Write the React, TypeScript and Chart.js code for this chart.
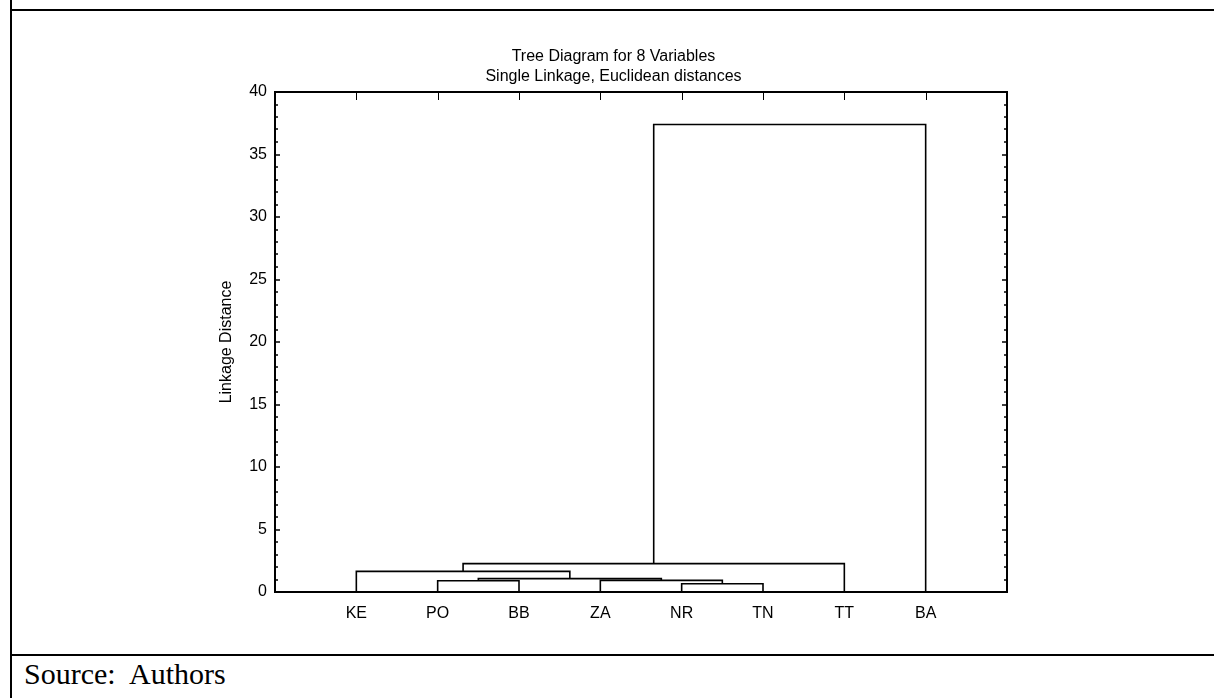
import React, { useEffect, useRef } from 'react';
import { Chart, registerables } from 'chart.js';

Chart.register(...registerables);

// ---- data ----
const leafLabels = ['KE', 'PO', 'BB', 'ZA', 'NR', 'TN', 'TT', 'BA'];
// merges: ids 0..7 are leaves, merge k creates cluster id 8 + k
const mergeLeft = [4, 1, 3, 9, 0, 12, 13];
const mergeRight = [5, 2, 8, 10, 11, 6, 7];
const mergeHeight = [0.66, 0.9, 0.93, 1.07, 1.65, 2.27, 37.4];
const yTickValues = [0, 5, 10, 15, 20, 25, 30, 35, 40];
const titleLines = ['Tree Diagram for 8 Variables', 'Single Linkage, Euclidean distances'];
const yAxisTitle = 'Linkage Distance';
const sourceNote = 'Source:  Authors';

const FONT = '"Liberation Sans", Arial, sans-serif';

function buildDatasets() {
  const clusterX: number[] = leafLabels.map((_, i) => i + 1);
  const clusterH: number[] = leafLabels.map(() => 0);
  return mergeLeft.map((a, k) => {
    const b = mergeRight[k];
    const h = mergeHeight[k];
    const pts = [
      { x: clusterX[a], y: clusterH[a] },
      { x: clusterX[a], y: h },
      { x: clusterX[b], y: h },
      { x: clusterX[b], y: clusterH[b] },
    ];
    clusterX.push((clusterX[a] + clusterX[b]) / 2);
    clusterH.push(h);
    return {
      data: pts,
      borderColor: '#000',
      borderWidth: 1.6,
      pointRadius: 0,
      tension: 0,
      fill: false,
    };
  });
}

const frameTicks = {
  id: 'frameTicks',
  afterDraw(chart: any) {
    const { ctx, chartArea } = chart;
    const { left, right, top } = chartArea;
    const ys = chart.scales.y;
    const xs = chart.scales.x;
    const yMax = yTickValues[yTickValues.length - 1];
    ctx.save();
    ctx.strokeStyle = '#000';
    const seg = (x1: number, y1: number, x2: number, y2: number) => {
      ctx.beginPath();
      ctx.moveTo(x1, y1);
      ctx.lineTo(x2, y2);
      ctx.stroke();
    };
    ctx.lineWidth = 1.5;
    for (let v = 0; v <= yMax; v++) {
      const py = Math.round(ys.getPixelForValue(v));
      const len = v % 5 === 0 ? 5 : 3;
      seg(left, py, left + len, py);
      seg(right, py, right - len, py);
    }
    ctx.lineWidth = 1;
    leafLabels.forEach((_, i) => {
      const px = Math.round(xs.getPixelForValue(i + 1)) + 0.5;
      seg(px, top, px, top + 8);
    });
    ctx.restore();
  },
};

export default function App() {
  const ref = useRef<HTMLCanvasElement>(null);

  useEffect(() => {
    const canvas = ref.current;
    if (!canvas) return;
    Chart.defaults.font.family = FONT;
    Chart.defaults.color = '#000';
    const chart = new Chart(canvas, {
      type: 'line',
      data: { datasets: buildDatasets() as any },
      options: {
        animation: false,
        responsive: false,
        devicePixelRatio: 1,
        layout: { padding: 0 },
        plugins: {
          legend: { display: false },
          tooltip: { enabled: false },
          title: {
            display: true,
            text: titleLines,
            color: '#000',
            font: { family: FONT, size: 16, weight: 'normal', lineHeight: 20 / 16 },
            padding: { top: 35, bottom: 5 },
          },
        },
        scales: {
          x: {
            type: 'linear',
            position: 'bottom',
            min: 0,
            max: 9,
            afterBuildTicks: (s: any) => {
              s.ticks = leafLabels.map((_, i) => ({ value: i + 1 }));
            },
            afterFit: (s: any) => {
              s.height = 63;
            },
            ticks: {
              autoSkip: false,
              maxRotation: 0,
              padding: 12,
              font: { family: FONT, size: 16 },
              color: '#000',
              callback: (v: any) => leafLabels[Number(v) - 1] ?? '',
            },
            grid: { display: false, drawTicks: false },
            border: { display: true, width: 2, color: '#000' },
          },
          x2: {
            type: 'linear',
            position: 'top',
            min: 0,
            max: 9,
            ticks: { display: false },
            grid: { display: false, drawTicks: false },
            border: { display: true, width: 2, color: '#000' },
            afterFit: (s: any) => {
              s.height = 0;
            },
          },
          y: {
            type: 'linear',
            position: 'left',
            min: 0,
            max: 40,
            afterBuildTicks: (s: any) => {
              s.ticks = yTickValues.map((v) => ({ value: v }));
            },
            afterFit: (s: any) => {
              s.width = 262;
            },
            ticks: {
              padding: 8,
              font: { family: FONT, size: 16 },
              color: '#000',
            },
            title: {
              display: true,
              text: yAxisTitle,
              color: '#000',
              font: { family: FONT, size: 16, lineHeight: 1.2 },
              padding: { top: 204, bottom: 0 },
            },
            grid: { display: false, drawTicks: false },
            border: { display: true, width: 2, color: '#000' },
          },
          y2: {
            type: 'linear',
            position: 'right',
            min: 0,
            max: 40,
            ticks: { display: false },
            grid: { display: false, drawTicks: false },
            border: { display: true, width: 2, color: '#000' },
            afterFit: (s: any) => {
              s.width = 207;
            },
          },
        },
      } as any,
      plugins: [frameTicks],
    });
    return () => chart.destroy();
  }, []);

  return (
    <div
      style={{
        position: 'fixed',
        left: 0,
        top: 0,
        width: 1214,
        height: 698,
        background: '#fff',
        overflow: 'hidden',
      }}
    >
      <div style={{ position: 'absolute', left: 10, top: 0, width: 2, height: 698, background: '#000' }} />
      <div style={{ position: 'absolute', left: 10, top: 9, width: 1204, height: 2, background: '#000' }} />
      <div style={{ position: 'absolute', left: 10, top: 654, width: 1204, height: 2, background: '#000' }} />
      <canvas
        ref={ref}
        width={1201}
        height={643}
        style={{ position: 'absolute', left: 13, top: 12, width: 1201, height: 643 }}
      />
      <div
        style={{
          position: 'absolute',
          left: 24,
          top: 659,
          fontFamily: '"Liberation Serif", "Times New Roman", serif',
          fontSize: 30,
          lineHeight: 1,
          whiteSpace: 'pre',
          color: '#000',
        }}
      >
        {sourceNote}
      </div>
    </div>
  );
}
